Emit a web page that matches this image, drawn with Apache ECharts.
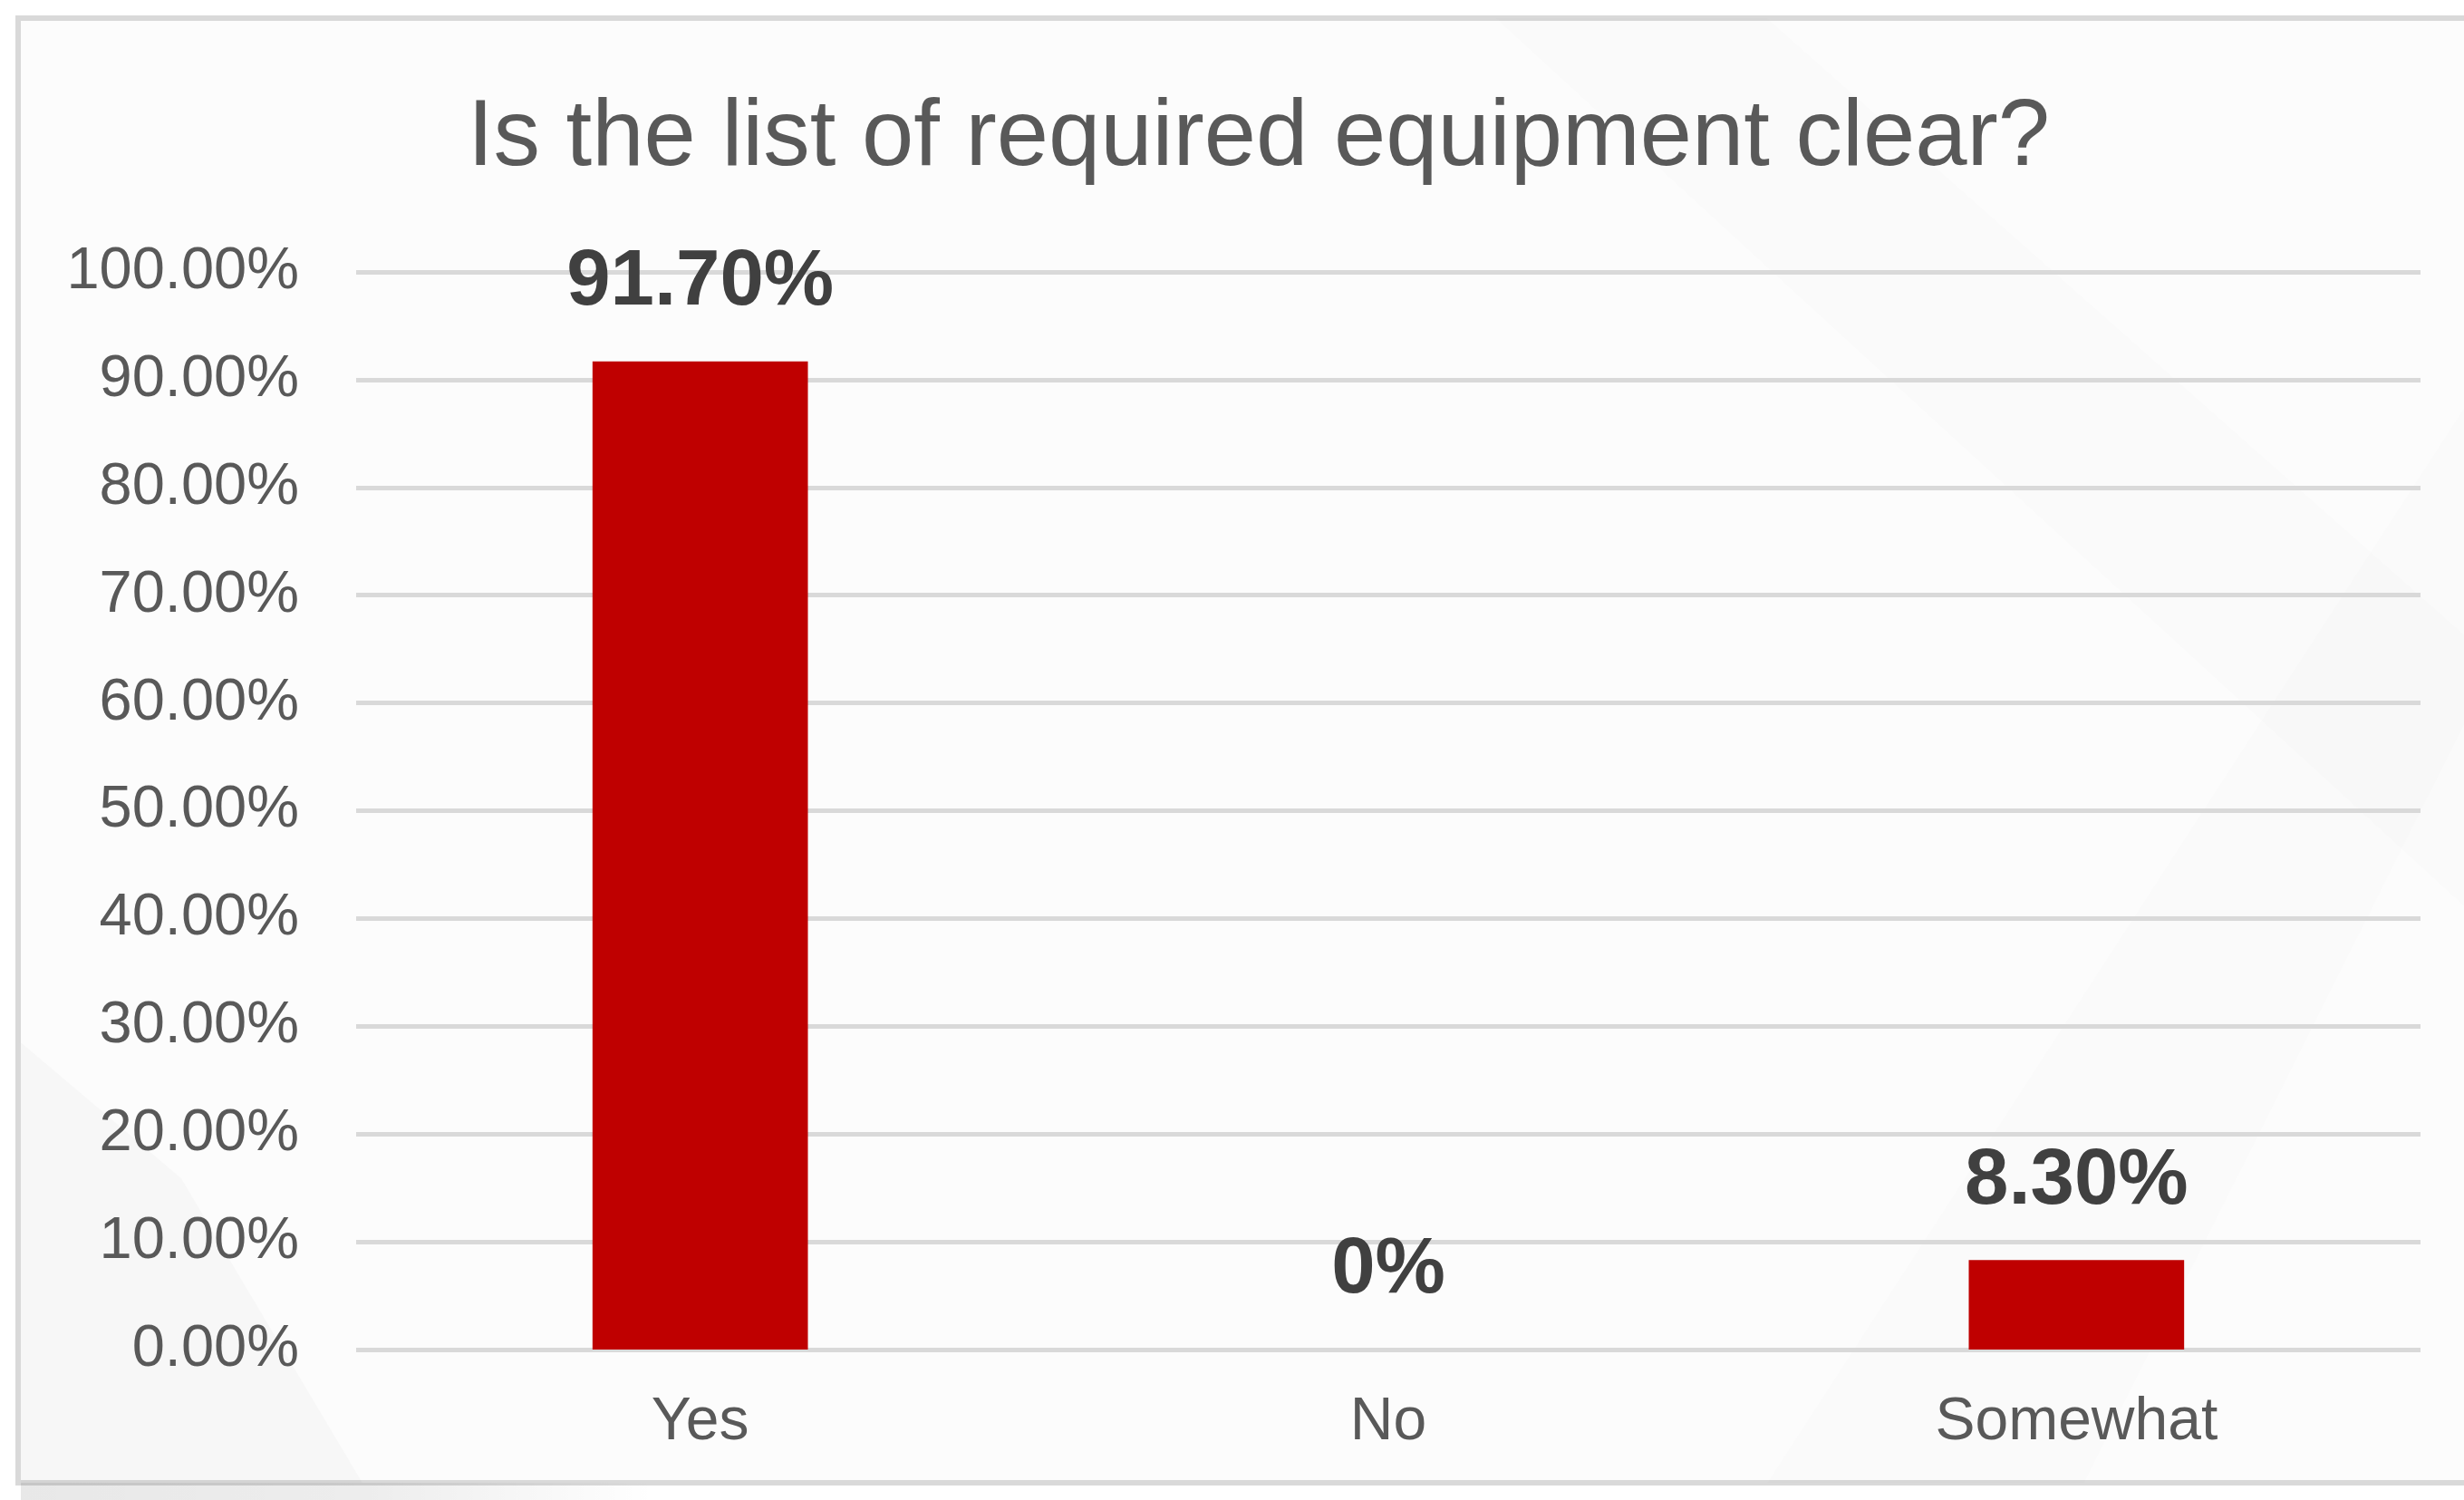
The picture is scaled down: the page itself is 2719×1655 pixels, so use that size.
<!DOCTYPE html>
<html>
<head>
<meta charset="utf-8">
<title>Is the list of required equipment clear?</title>
<script src="https://cdn.jsdelivr.net/npm/echarts@6/dist/echarts.min.js"></script>
<style>
  html, body { margin: 0; padding: 0; background: #ffffff; }
  #chart { width: 2719px; height: 1655px; }
</style>
</head>
<body>
<div id="chart"></div>
<script>
// Survey answers (percent of respondents)
const titleText = 'Is the list of required equipment clear?';
const categories = ['Yes', 'No', 'Somewhat'];
const shares = [91.7, 0, 8.3];
const yTicks = { min: 0, max: 100, step: 10 };

const FONT = '"Liberation Sans", Arial, sans-serif';

const chart = echarts.init(document.getElementById('chart'), null, { renderer: 'canvas' });

chart.setOption({
  backgroundColor: '#ffffff',
  animation: false,
  graphic: [
    // card background with faint diagonal sheen
    {
      type: 'rect', z: -10, silent: true,
      shape: { x: 20, y: 20, width: 2760, height: 1616 },
      style: { fill: '#fcfcfc', stroke: '#d9d9d9', lineWidth: 6 }
    },
    {
      type: 'polygon', z: -9, silent: true,
      shape: { points: [[1650, 20], [1950, 20], [2719, 700], [2719, 1000]] },
      style: { fill: 'rgba(0,0,0,0.006)' }
    },
    {
      type: 'polygon', z: -9, silent: true,
      shape: { points: [[2719, 450], [2719, 800], [2300, 1636], [1950, 1636]] },
      style: { fill: 'rgba(0,0,0,0.008)' }
    },
    {
      type: 'polygon', z: -9, silent: true,
      shape: { points: [[23, 1150], [200, 1300], [400, 1636], [23, 1636]] },
      style: { fill: 'rgba(0,0,0,0.018)' }
    },
    {
      type: 'rect', z: -9, silent: true,
      shape: { x: 23, y: 1636, width: 700, height: 19 },
      style: {
        fill: new echarts.graphic.LinearGradient(0, 0, 1, 0, [
          { offset: 0, color: 'rgba(0,0,0,0.09)' },
          { offset: 0.55, color: 'rgba(0,0,0,0.07)' },
          { offset: 1, color: 'rgba(0,0,0,0)' }
        ])
      }
    }
  ],
  title: {
    text: titleText,
    left: 1389,
    top: 102,
    padding: 0,
    textAlign: 'center',
    textStyle: {
      fontFamily: FONT,
      fontSize: 103,
      fontWeight: 'normal',
      color: '#595959'
    }
  },
  grid: {
    left: 393,
    right: 48,
    top: 300,
    bottom: 166,
    containLabel: false
  },
  xAxis: {
    type: 'category',
    data: categories,
    axisLine: { show: false },
    axisTick: { show: false },
    axisLabel: {
      margin: 48,
      fontFamily: FONT,
      fontSize: 66,
      color: '#595959'
    }
  },
  yAxis: {
    type: 'value',
    min: yTicks.min,
    max: yTicks.max,
    interval: yTicks.step,
    axisLine: { show: false },
    axisTick: { show: false },
    axisLabel: {
      margin: 63,
      fontFamily: FONT,
      fontSize: 65,
      color: '#595959',
      formatter: v => v.toFixed(2) + '%'
    },
    splitLine: {
      show: true,
      lineStyle: { color: '#d9d9d9', width: 5 }
    }
  },
  series: [
    {
      type: 'bar',
      data: shares,
      barWidth: '31.3%',
      itemStyle: { color: '#bf0000' },
      label: {
        show: true,
        position: 'top',
        distance: 43,
        fontFamily: FONT,
        fontSize: 87,
        fontWeight: 'bold',
        color: '#404040',
        formatter: p => (p.value === 0 ? '0' : p.value.toFixed(2)) + '%'
      }
    }
  ]
});
</script>
</body>
</html>
